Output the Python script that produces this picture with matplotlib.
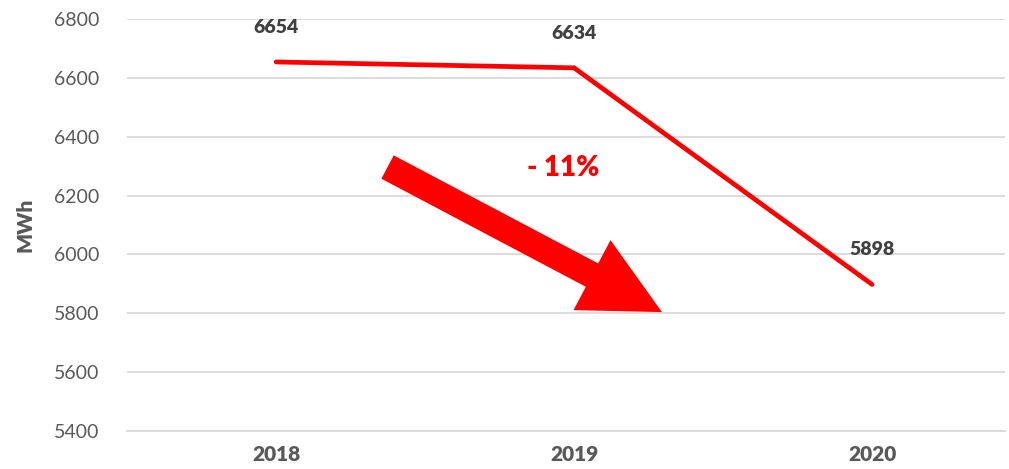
import matplotlib.pyplot as plt

plt.rcParams["font.family"] = ["Lato", "DejaVu Sans"]

years = ["2018", "2019", "2020"]
mwh = [6654, 6634, 5898]
change_label = "- 11%"

# arrow / text positions in data units (category index, MWh)
arrow_tail = (0.374, 6297)
arrow_tip = (1.295, 5804)
change_pos = (0.963, 6294)

fig = plt.figure(figsize=(10.09, 4.69), dpi=100)
ax = fig.add_axes([0.126, 0.081, 0.870, 0.8785])

x = list(range(len(years)))
ax.plot(x, mwh, color="#ff0000", linewidth=3.4, solid_capstyle="round",
        solid_joinstyle="miter", zorder=3)

for xi, v in zip(x, mwh):
    ax.annotate(str(v), (xi, v), xytext=(0, 25), textcoords="offset points",
                ha="center", va="center", fontsize=14, fontweight="heavy",
                color="#404040")

# big trend arrow
ax.annotate("", xy=arrow_tip, xytext=arrow_tail,
            arrowprops=dict(arrowstyle="simple,head_length=57,head_width=57,tail_width=19",
                            color="#ff0000", mutation_scale=1, shrinkA=0, shrinkB=0,
                            linewidth=0),
            zorder=4)
ax.text(*change_pos, change_label, ha="center", va="center", fontsize=20,
        fontweight="heavy", color="#ff0000")

ax.set_xlim(-0.5, 2.446)
ax.set_ylim(5400, 6800)
ax.set_yticks(range(5400, 6801, 200))
ax.set_xticks(x)
ax.set_xticklabels(years, fontsize=15, fontweight="heavy", color="#595959")
ax.tick_params(axis="y", labelsize=14, labelcolor="#595959", length=0, pad=20)
ax.tick_params(axis="x", length=0, pad=10)
ax.set_ylabel("MWh", fontsize=15, fontweight="heavy", color="#595959", labelpad=14)

ax.grid(axis="y", color="#d9d9d9", linewidth=1.3)
ax.set_axisbelow(True)
for s in ["top", "right", "left"]:
    ax.spines[s].set_visible(False)
ax.spines["bottom"].set_color("#d9d9d9")
ax.spines["bottom"].set_linewidth(1.3)

fig.savefig("out.png", dpi=100)
